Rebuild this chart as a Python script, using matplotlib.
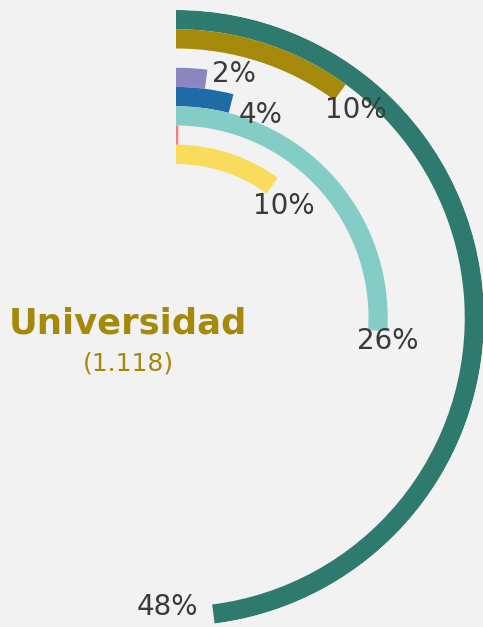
import numpy as np
import matplotlib
matplotlib.use("Agg")
import matplotlib.pyplot as plt
from matplotlib import font_manager

# ---- data ----
categories = ["Cat A", "Cat B", "Cat C", "Cat D", "Cat E", "Cat F", "Cat G", "Cat H"]
values = [48, 10, 0, 2, 4, 26, 0.2, 10]          # percent
colors = ["#2F7A6F", "#A5890A", "#F2F2F2", "#8B86BF", "#1F6BA6", "#84CDC6", "#F08080", "#F9DC5C"]
title_text = "Universidad"
subtitle_text = "(1.118)"
# label offsets from arc end (pixels: right, down)
label_offsets = [(-46, -7), (16, 18), None, (28, -5), (30, 11), (10, 10), None, (12, 20)]

W, H, DPI = 483, 627, 100
fig = plt.figure(figsize=(W / DPI, H / DPI), dpi=DPI, facecolor="#F2F2F2")

avail = {f.name for f in font_manager.fontManager.ttflist}
lab_font = ["Liberation Sans Narrow", "DejaVu Sans"] if "Liberation Sans Narrow" in avail else ["DejaVu Sans"]

cx, cy, R = 176, 318, 308
ax = fig.add_axes([(cx - R) / W, (H - cy - R) / H, 2 * R / W, 2 * R / H], projection="polar")
ax.set_theta_zero_location("N")
ax.set_theta_direction(-1)
ax.set_ylim(0, R)
ax.set_axis_off()
ax.patch.set_visible(False)

band = 19.25
for i, (v, c) in enumerate(zip(values, colors)):
    r_out = R - band * i
    r_in = r_out - band
    width = v / 100 * 2 * np.pi
    if v > 0:
        ax.bar(0, band, width=width, bottom=r_in, align="edge", color=c, edgecolor="none", linewidth=0)
    off = label_offsets[i]
    if off is not None and v >= 1:
        ax.annotate(f"{v:.0f}%", xy=(width, r_in + band / 2), xytext=(off[0] * 0.72, -off[1] * 0.72),
                    textcoords="offset points", ha="center", va="center",
                    fontsize=20, color="#3A3A3A", family=lab_font)

fig.text(128 / W, 1 - 323 / H, title_text, ha="center", va="center", fontsize=25.5,
         fontweight="bold", color="#A5890A", family="DejaVu Sans")
fig.text(128 / W, 1 - 363 / H, subtitle_text, ha="center", va="center", fontsize=18,
         color="#A5890A", family=lab_font)

fig.savefig("out.png", dpi=DPI, facecolor="#F2F2F2")
